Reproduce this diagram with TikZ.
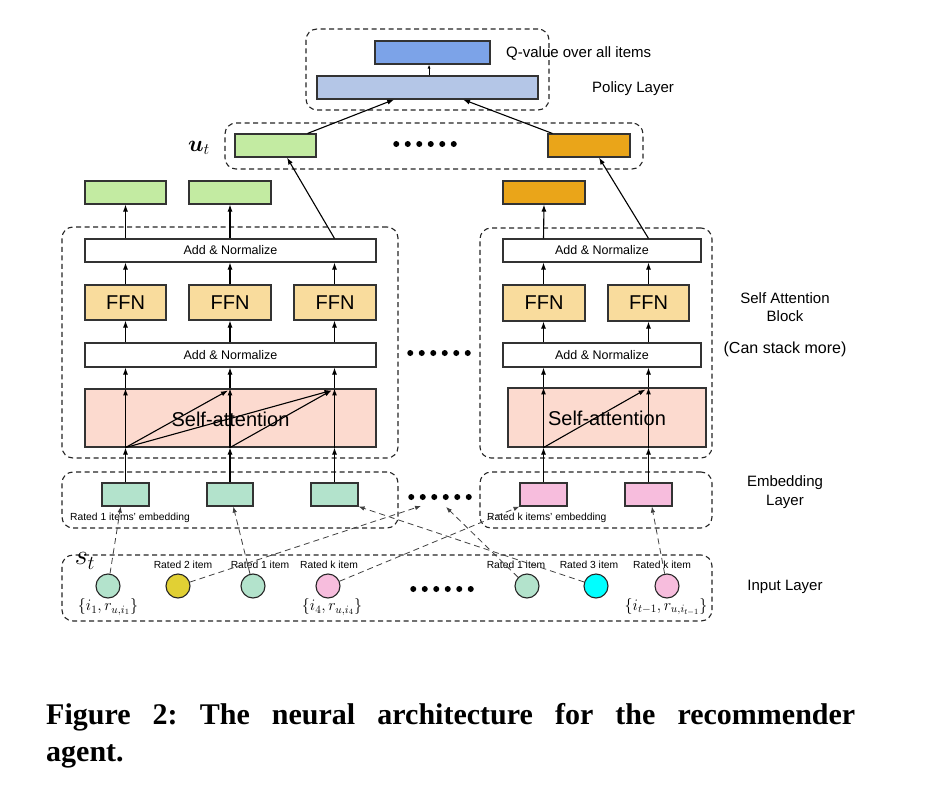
\RequirePackage{fix-cm}
\documentclass[tikz,border=0pt]{standalone}
\usepackage{amsmath,bm}
\usepackage[no-math]{fontspec}
\setmainfont{Liberation Sans}
\newfontfamily\capfont{Liberation Serif}
\usetikzlibrary{arrows.meta,fit,calc}
\definecolor{cqv}{HTML}{7CA3E8}
\definecolor{cpol}{HTML}{B4C6E7}
\definecolor{cug}{HTML}{C3EBA2}
\definecolor{corg}{HTML}{EAA519}
\definecolor{cffn}{HTML}{F9DC9D}
\definecolor{csa}{HTML}{FCDACF}
\definecolor{ceg}{HTML}{B3E3CC}
\definecolor{cpk}{HTML}{F7BDDD}
\definecolor{cyl}{HTML}{E1D034}
\definecolor{ccy}{HTML}{00FFFF}
\begin{document}
\begin{tikzpicture}[x=1pt,y=-1pt,
  bx/.style={draw=black!80,line width=1.1pt,inner sep=0pt},
  dbox/.style={draw=black!85,dash pattern=on 5pt off 3.5pt,line width=1.1pt,rounded corners=11pt,inner sep=0pt},
  arr/.style={-{Latex[length=7pt,width=5pt]},line width=1.1pt},
  darr/.style={-{Latex[length=6pt,width=4.5pt]},dash pattern=on 6pt off 4pt,line width=0.8pt,draw=black!75},
  circ/.style={circle,draw=black!85,line width=1.1pt,minimum size=24pt,inner sep=0pt},
  lbl/.style={font=\fontsize{15}{18.5}\selectfont,align=center,inner sep=0pt},
  sml/.style={font=\fontsize{10.3}{12}\selectfont,inner sep=0pt},
  mth/.style={font=\fontsize{16}{18}\selectfont,inner sep=0pt},
  an/.style={bx,fill=white,font=\fontsize{12.5}{14}\selectfont},
  ffn/.style={bx,fill=cffn,font=\fontsize{20}{22}\selectfont},
  sabox/.style={bx,fill=csa,font=\fontsize{20}{22}\selectfont},
  sixdots/.pic={\foreach \i in {0,...,5} \fill ({(\i-2.5)*11.5},0) circle (3pt);}
]
\useasboundingbox (0,0) rectangle (939,789);
\fill[white] (0,0) rectangle (939,789);

% ---------- dashed containers ----------
\node[dbox,fit={(306,29)(549,110)}] (polc) {};
\node[dbox,fit={(225,123)(643,169)}] (utc) {};
\node[dbox,fit={(62,227)(398,458)}] (blkA) {};
\node[dbox,fit={(480,228)(712,458)}] (blkB) {};
\node[dbox,fit={(62,472)(398,528)}] (embA) {};
\node[dbox,fit={(480,472)(712,528)}] (embB) {};
\node[dbox,fit={(62,555)(712,621)}] (inp) {};

% ---------- policy ----------
\node[bx,fill=cqv,fit={(375,41)(490,64)}] (qv) {};
\node[bx,fill=cpol,fit={(317,76)(538,99)}] (pol) {};
\node[lbl,anchor=west] (qvt) at (506,53) {Q-value over all items};
\node[lbl,anchor=west] (polt) at (592,89) {Policy Layer};

% ---------- u_t ----------
\node[bx,fill=cug,fit={(235,134)(316,157)}] (ug) {};
\node[bx,fill=corg,fit={(548,134)(630,157)}] (uo) {};
\node[inner sep=0pt,font=\fontsize{23}{25}\selectfont] (utl) at (199,148) {$\bm{u}_t$};
\pic at (425,144) {sixdots};

% ---------- outputs ----------
\node[bx,fill=cug,fit={(85,181)(166,204)}] (o1) {};
\node[bx,fill=cug,fit={(189,181)(271,204)}] (o2) {};
\node[bx,fill=corg,fit={(503,181)(585,204)}] (o4) {};

% ---------- block A ----------
\node[an,fit={(85,239)(376,262)}] (an2) {};
\node[an,draw=none,fill=none] at (an2.center) {Add \& Normalize};
\node[ffn,fit={(85,285)(166,320)}] (f1) {};
\node[ffn,fit={(189,285)(271,320)}] (f2) {};
\node[ffn,fit={(294,285)(376,320)}] (f3) {};
\foreach \n in {f1,f2,f3} \node[inner sep=0pt,font=\fontsize{20}{22}\selectfont] at (\n.center) {FFN};
\node[an,fit={(85,343)(376,367)}] (an1) {};
\node[an,draw=none,fill=none] at (an1.center) {Add \& Normalize};
\node[sabox,fit={(85,389)(376,447)}] (sa) {};
\node[inner sep=0pt,font=\fontsize{20}{22}\selectfont] (sat) at ($(sa.center)+(0,1)$) {Self-attention};

% ---------- block B ----------
\node[an,fit={(503,239)(701,262)}] (bn2) {};
\node[an,draw=none,fill=none] at (bn2.center) {Add \& Normalize};
\node[ffn,fit={(503,285)(585,321)}] (g1) {};
\node[ffn,fit={(608,285)(689,321)}] (g2) {};
\foreach \n in {g1,g2} \node[inner sep=0pt,font=\fontsize{20}{22}\selectfont] at (\n.center) {FFN};
\node[an,fit={(503,343)(701,367)}] (bn1) {};
\node[an,draw=none,fill=none] at (bn1.center) {Add \& Normalize};
\node[sabox,fit={(508,388)(706,447)}] (sb) {};
\node[inner sep=0pt,font=\fontsize{20}{22}\selectfont] (sbt) at ($(sb.center)+(0,1)$) {Self-attention};

\pic at (439,353) {sixdots};

% ---------- embeddings ----------
\node[bx,fill=ceg,fit={(102,483)(149,506)}] (e1) {};
\node[bx,fill=ceg,fit={(207,483)(253,506)}] (e2) {};
\node[bx,fill=ceg,fit={(311,483)(358,506)}] (e3) {};
\node[bx,fill=cpk,fit={(520,483)(567,506)}] (p1) {};
\node[bx,fill=cpk,fit={(625,483)(672,506)}] (p2) {};
\node[sml,anchor=west] (ela) at (70,518) {Rated 1 items' embedding};
\node[sml,anchor=west] (elb) at (487,518) {Rated k items' embedding};
\pic at (440,497) {sixdots};

% ---------- input ----------
\node[circ,fill=ceg] (c1) at (108,586) {};
\node[circ,fill=cyl] (c2) at (178,586) {};
\node[circ,fill=ceg] (c3) at (253,586) {};
\node[circ,fill=cpk] (c4) at (328,586) {};
\node[circ,fill=ceg] (c5) at (527,586) {};
\node[circ,fill=ccy] (c6) at (596,586) {};
\node[circ,fill=cpk] (c7) at (667,586) {};
\node[sml] (r2) at (183,565) {Rated 2 item};
\node[sml] (r1) at (260,565) {Rated 1 item};
\node[sml] (rk) at (329,565) {Rated k item};
\node[sml] (r1b) at (516,565) {Rated 1 item};
\node[sml] (r3) at (589,565) {Rated 3 item};
\node[sml] (rkb) at (662,565) {Rated k item};
\node[mth] (m1) at (108,607) {$\{i_1,r_{u,i_1}\}$};
\node[mth] (m4) at (332,607) {$\{i_4,r_{u,i_4}\}$};
\node[mth] (mt) at (666,607) {$\{i_{t-1},r_{u,i_{t-1}}\}$};
\node[inner sep=0pt,font=\fontsize{28}{30}\selectfont] (st) at (85,561) {$s_t$};
\pic at (442,589) {sixdots};

% ---------- layer labels ----------
\node[lbl] (sal) at (785,307) {Self Attention\\Block};
\node[lbl,font=\fontsize{16}{18}\selectfont] (csm) at (785,349) {(Can stack more)};
\node[lbl] (eml) at (785,492) {Embedding\\Layer};
\node[lbl] (inl) at (785,587) {Input Layer};

% ---------- solid arrows in blocks ----------
\foreach \e/\s/\a/\b/\f in {e1/sa/an1/an2/f1,e2/sa/an1/an2/f2,e3/sa/an1/an2/f3,p1/sb/bn1/bn2/g1,p2/sb/bn1/bn2/g2}{
  \draw[arr] (\e.north) -- (\e.north |- \s.south);
  \draw[arr] (\e.north |- \s.south) -- (\e.north |- \s.north);
  \draw[arr] (\e.north |- \s.north) -- (\e.north |- \a.south);
  \draw[arr] (\e.north |- \a.north) -- (\e.north |- \f.south);
  \draw[arr] (\e.north |- \f.north) -- (\e.north |- \b.south);
}
\draw[arr] (e1.north |- an2.north) -- (o1.south);
\draw[arr] (e2.north |- an2.north) -- (o2.south);
\draw[arr] (p1.north |- bn2.north) -- (o4.south);
\draw[arr] (e3.north |- an2.north) -- ($(ug.south west)!0.64!(ug.south east)$);
\draw[arr] (p2.north |- bn2.north) -- ($(uo.south west)!0.62!(uo.south east)$);
% diagonals
\draw[arr] (e1.north |- sa.south) -- ($(e2.north |- sa.north)+(-2,2)$);
\draw[arr] (e1.north |- sa.south) -- ($(e3.north |- sa.north)+(-3,2)$);
\draw[arr] (e2.north |- sa.south) -- ($(e3.north |- sa.north)+(-3,2)$);
\draw[arr] (p1.north |- sb.south) -- ($(p2.north |- sb.north)+(-3,2)$);

% ---------- top arrows ----------
\draw[arr] ($(ug.north west)!0.89!(ug.north east)$) -- ($(pol.south west)!0.35!(pol.south east)$);
\draw[arr] ($(uo.north west)!0.06!(uo.north east)$) -- ($(pol.south west)!0.66!(pol.south east)$);
\coordinate (pq) at ($(pol.north west)!0.507!(pol.north east)$);
\draw[-{Latex[length=4pt,width=3pt]},line width=0.8pt] (pq) -- (pq |- qv.south);

% ---------- dashed input arrows ----------
\coordinate (ya) at (421,506);
\coordinate (gb) at (446,507);
\draw[darr] (c1) -- ($(e1.south west)!0.4!(e1.south east)$);
\draw[darr] (c3) -- ($(e2.south west)!0.57!(e2.south east)$);
\draw[darr] (c2) -- (ya);
\draw[darr] (c4) -- (p1.south west);
\draw[darr] (c5) -- (gb);
\draw[darr] (c6) -- (e3.south east);
\draw[darr] (c7) -- ($(p2.south west)!0.57!(p2.south east)$);

% ---------- caption ----------
\node[anchor=base west,inner sep=0pt,font=\capfont\bfseries\fontsize{30}{37}\selectfont] (cap1) at (46,724) {\frenchspacing\makebox[809pt][s]{Figure 2: The neural architecture for the recommender}};
\node[anchor=base west,inner sep=0pt,font=\capfont\bfseries\fontsize{30}{37}\selectfont] (cap2) at (46,761) {agent.};
\end{tikzpicture}
\end{document}
